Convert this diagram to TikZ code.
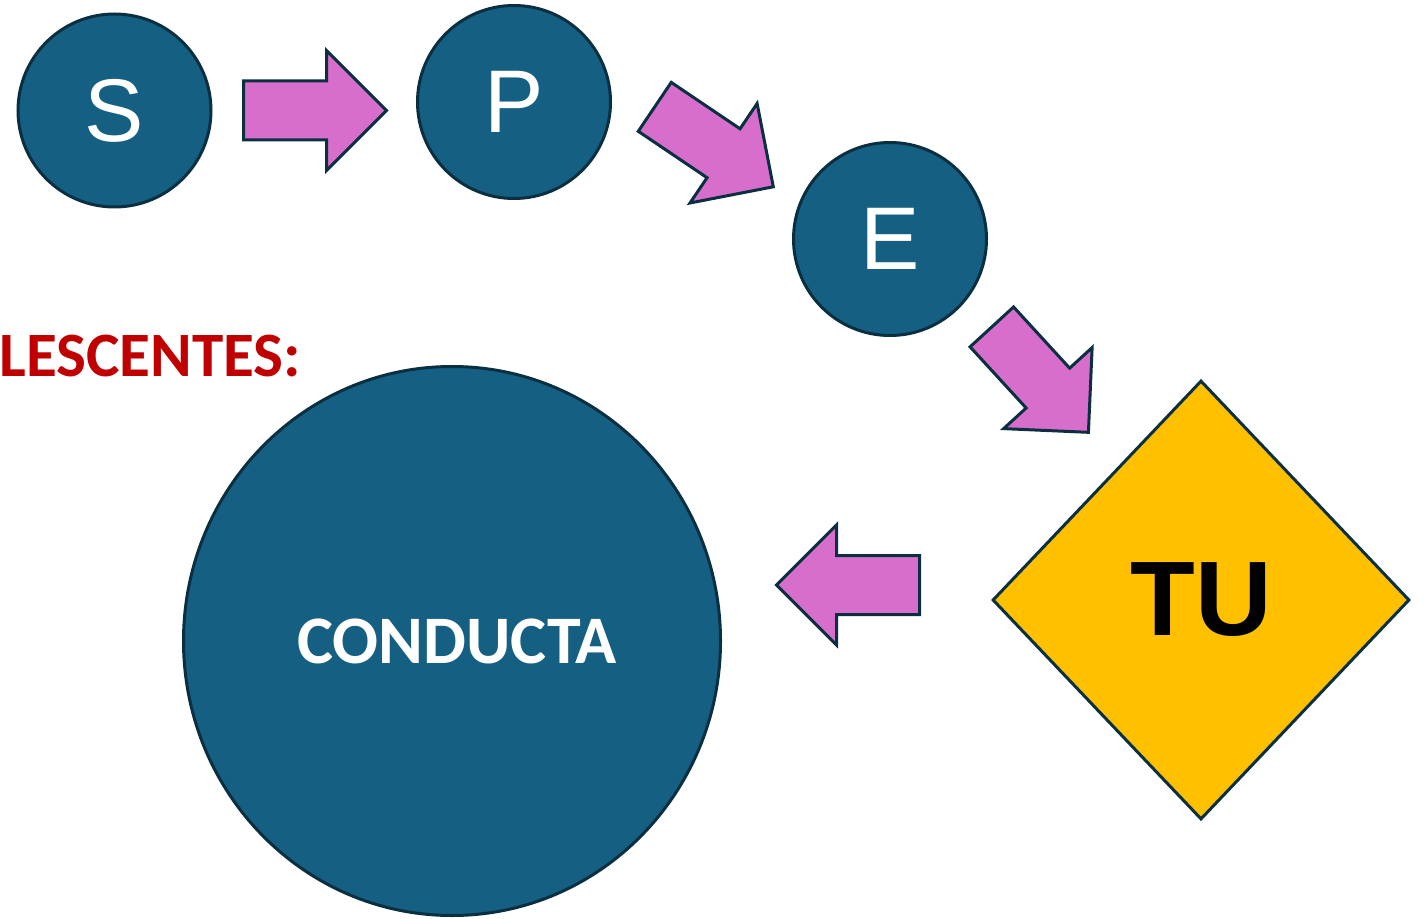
\documentclass[tikz,border=0pt]{standalone}
\usepackage{fontspec}
\setmainfont{Liberation Sans}
\newfontfamily\carlito{Carlito}
\usetikzlibrary{shapes.geometric,shapes.arrows}
\definecolor{azul}{HTML}{156082}
\definecolor{borde}{HTML}{0A2F41}
\definecolor{rosa}{HTML}{D86ECC}
\definecolor{amarillo}{HTML}{FFC000}
\definecolor{rojo}{HTML}{C00000}

\begin{document}
\begin{tikzpicture}[
  x=0.5pt, y=-0.5pt,
  etapa/.style={circle, draw=borde, fill=azul, line width=1.5pt, minimum size=96.5pt, inner sep=0pt, text=white, font=\fontsize{44.5}{50}\selectfont},
  flecha/.style={single arrow, draw=borde, fill=rosa, line width=1.5pt, minimum width=58.5pt, minimum height=71.5pt, single arrow head extend=15.25pt, single arrow tip angle=90, inner xsep=0pt, inner ysep=14pt, anchor=tail}
]
\useasboundingbox (0,0) rectangle (1428,919);

% Etapas
\node[etapa] (S) at (114.5,110.5) {S};
\node[etapa] (P) at (514,102) {P};
\node[etapa] (E) at (890,239) {E};

\node[diamond, draw=borde, fill=amarillo, line width=1.5pt, minimum width=208.5pt, minimum height=219.5pt, inner sep=0pt,
  font=\fontsize{53}{60}\selectfont\bfseries] (TU) at (1201,600) {TU};

\node[ellipse, draw=borde, fill=azul, line width=1.5pt, minimum width=268.5pt, minimum height=274.5pt, inner sep=0pt,
  text=white, font=\carlito\fontsize{34}{40}\selectfont\bfseries] (C) at (452,641) {\hspace*{5pt}\raisebox{-2pt}{CONDUCTA}};

% Flechas
\node[flecha] (f1) at (242,110.5) {};
\node[flecha, rotate=-34] (f2) at (653.5,106) {};
\node[flecha, rotate=-47.5] (f3) at (990.8,325.8) {};
\node[flecha, rotate=180] (f4) at (921,585) {};

% Titulo
\node[anchor=base west, inner sep=0pt, text=rojo, font=\carlito\fontsize{31.6}{36}\selectfont\bfseries] (lbl) at (-1,376) {LESCENTES:};

\end{tikzpicture}
\end{document}
